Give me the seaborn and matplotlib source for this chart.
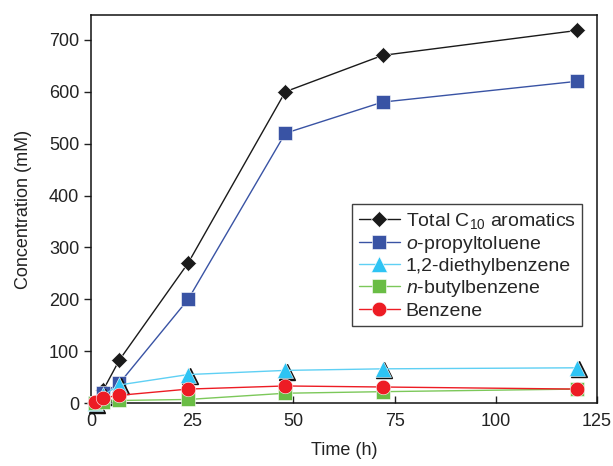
import numpy as np
import pandas as pd
import seaborn as sns
import matplotlib
matplotlib.use("Agg")
import matplotlib.pyplot as plt
from matplotlib.transforms import ScaledTranslation

# data
time_h = [1, 3, 7, 24, 48, 72, 120]
total_c10 = [0, 25, 83, 270, 600, 670, 718]
o_propyltoluene = [0, 20, 38, 200, 520, 580, 620]
diethylbenzene = [0, 15, 35, 55, 63, 66, 68]
n_butylbenzene = [0, 3, 5, 7, 19, 22, 27]
benzene = [3, 10, 15, 27, 33, 31, 27]

series_names = ["Total C$_{10}$ aromatics", "$o$-propyltoluene",
                "1,2-diethylbenzene", "$n$-butylbenzene", "Benzene"]
series_values = [total_c10, o_propyltoluene, diethylbenzene, n_butylbenzene, benzene]
marker_colors = ["#1a1a1a", "#3953a4", "#2ec4f4", "#6abd45", "#ed1c24"]
line_colors = ["#1a1a1a", "#3953a4", "#5fd0f4", "#7cc85a", "#ed1c24"]
markers = ["D", "s", "^", "s", "o"]
sizes = [8.5, 10, 11, 10, 10.5]

sns.set_style("ticks")
plt.rcParams["font.family"] = ["Liberation Sans", "DejaVu Sans"]
plt.rcParams["mathtext.fontset"] = "custom"
plt.rcParams["mathtext.rm"] = "Liberation Sans"
plt.rcParams["mathtext.it"] = "Liberation Sans:italic"

fig = plt.figure(figsize=(6.13, 4.66), dpi=100)
ax = fig.add_axes([0.1485, 0.135, 0.8255, 0.833])

df = pd.DataFrame({"Time": time_h})
for i, (name, vals) in enumerate(zip(series_names, series_values)):
    df["y"] = vals
    if markers[i] == "^":
        # dark shadow behind the triangles
        shadow = ax.transData + ScaledTranslation(1.3 / 72, -1.1 / 72, fig.dpi_scale_trans)
        ax.plot(time_h, vals, linestyle="none", marker="^", markersize=sizes[i],
                color="#111111", transform=shadow, clip_on=False, zorder=2 + i)
    sns.lineplot(data=df, x="Time", y="y", ax=ax, color=line_colors[i], lw=1.0,
                 marker=markers[i], markersize=sizes[i], markerfacecolor=marker_colors[i],
                 markeredgecolor="white", markeredgewidth=0.4, label=name,
                 clip_on=False, zorder=2.5 + i)

ax.set_xlim(0, 125)
ax.set_ylim(0, 748)
ax.set_xticks([0, 25, 50, 75, 100, 125])
ax.set_yticks(range(0, 701, 100))
ax.tick_params(axis="x", direction="in", length=5, width=1, labelsize=13, pad=7, colors="#222222")
ax.tick_params(axis="y", direction="out", length=5, width=1, labelsize=13, colors="#222222")
for sp in ax.spines.values():
    sp.set_visible(True)
    sp.set_color("#111111")
    sp.set_linewidth(1.1)
ax.set_xlabel("Time (h)", fontsize=13, color="#222222", labelpad=9)
ax.set_ylabel("Concentration (mM)", fontsize=13, color="#222222", labelpad=12)

leg = ax.legend(loc="upper left", bbox_to_anchor=(0.516, 0.513), fontsize=14,
                frameon=True, fancybox=False, edgecolor="#111111", handlelength=2.1,
                handletextpad=0.3, borderpad=0.35, labelspacing=0.15, borderaxespad=0)
leg.get_frame().set_linewidth(1.0)

fig.savefig("out.png", dpi=100)
